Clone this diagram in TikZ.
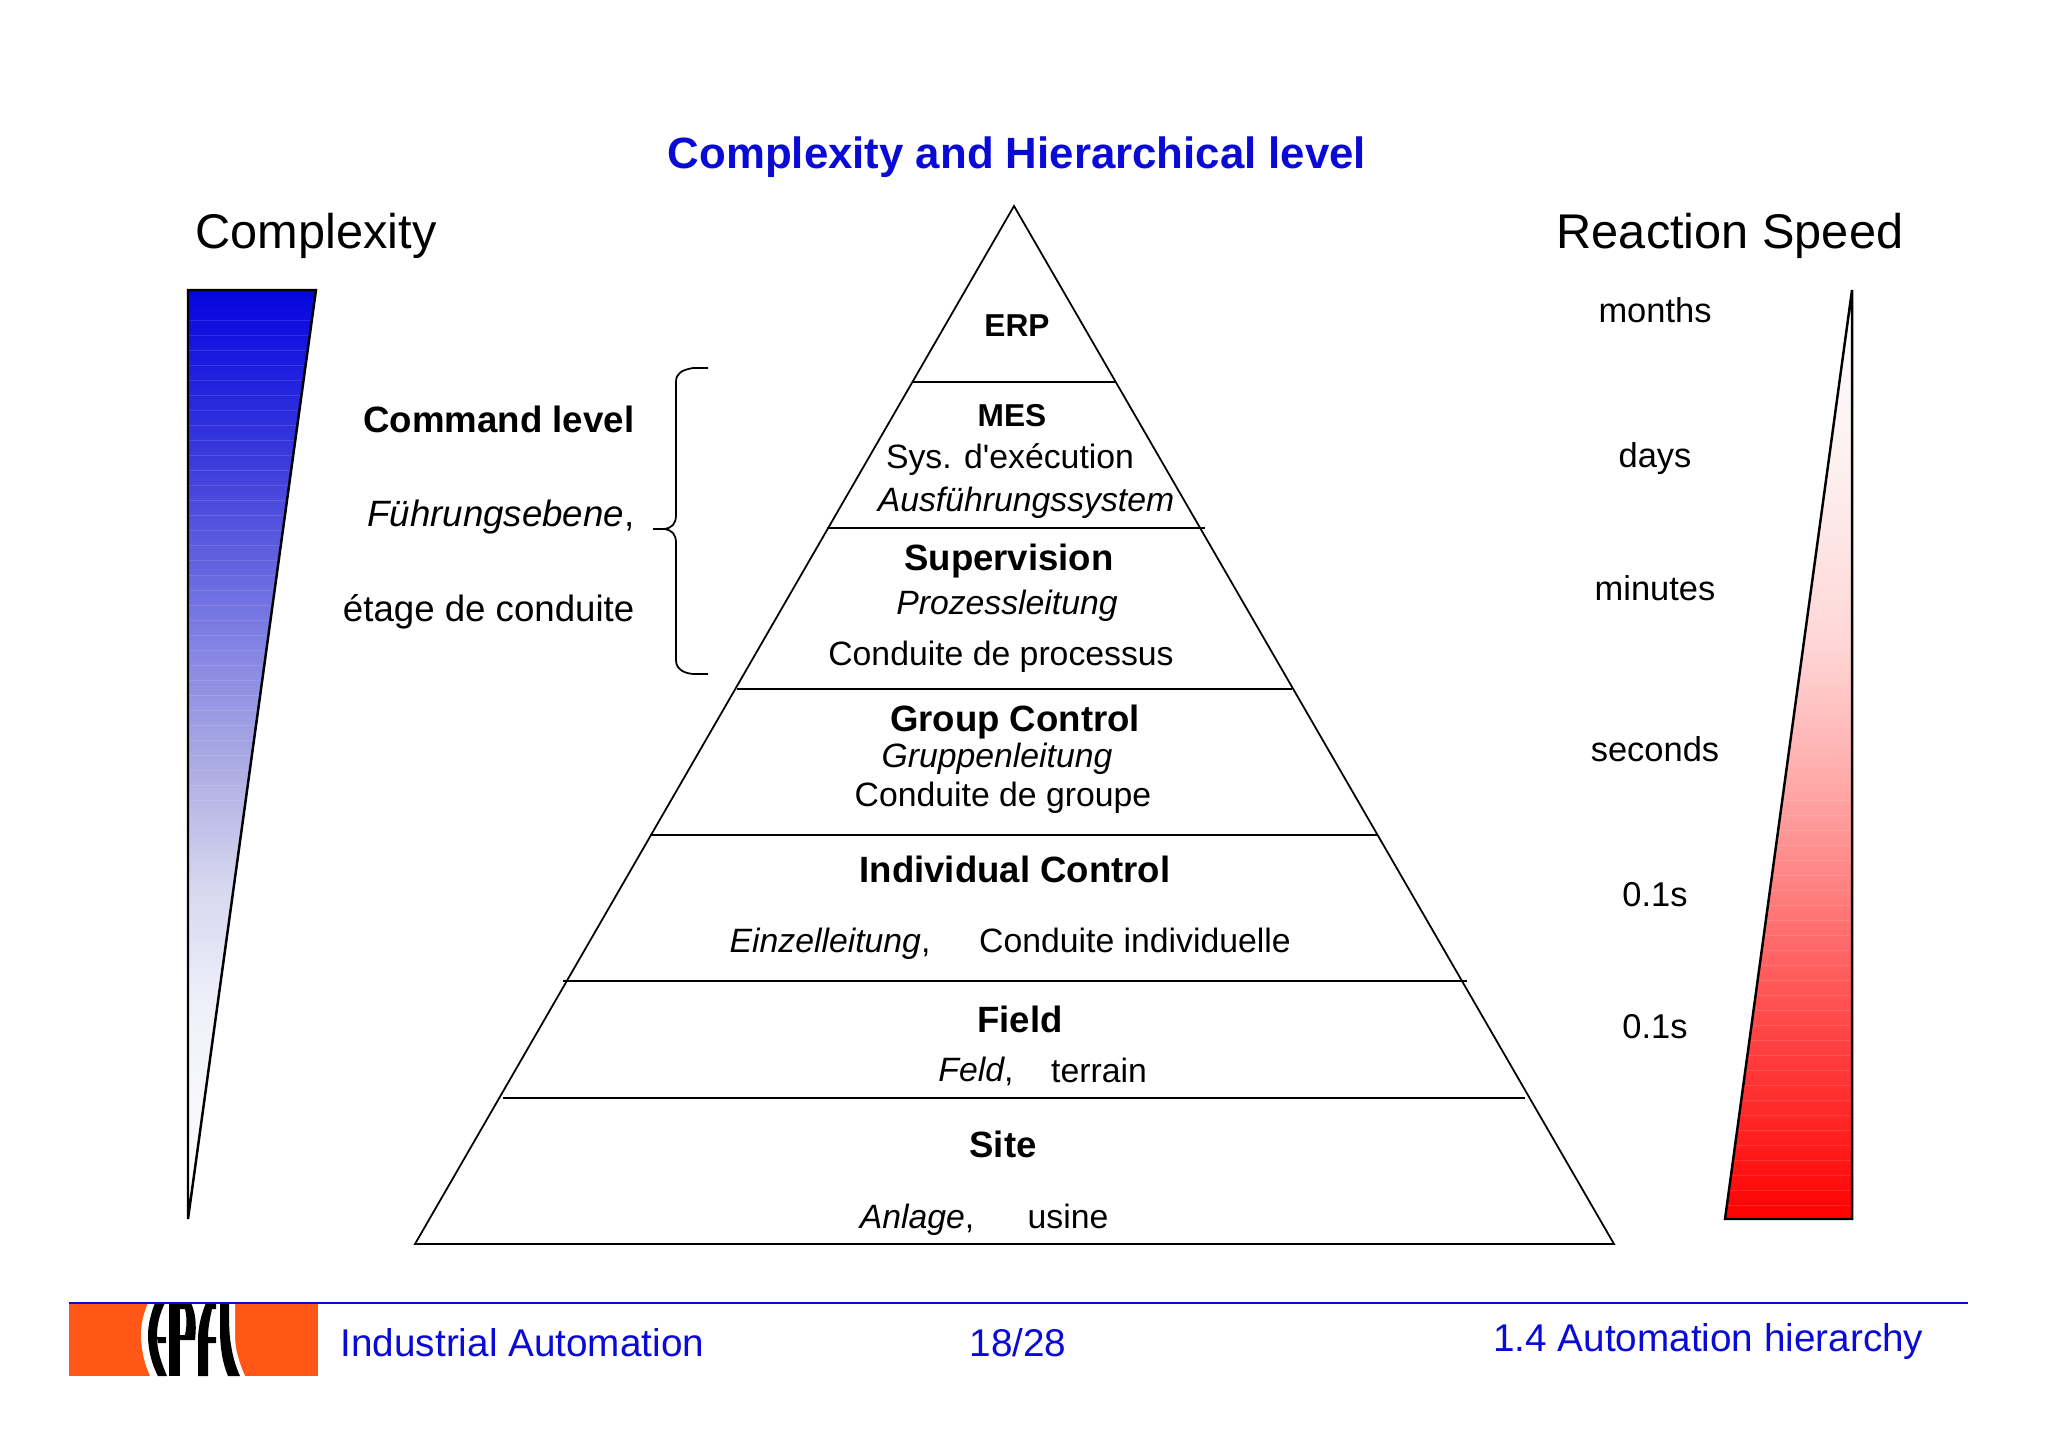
\documentclass[tikz,border=0pt]{standalone}
\usepackage{fontspec}
\setmainfont{Liberation Sans}
\usetikzlibrary{positioning}
\definecolor{epfl_blue}{RGB}{10,10,215}
\definecolor{epfl_orange}{RGB}{255,88,22}
\pgfdeclareverticalshading{blueramp}{100bp}{rgb(0bp)=(1,1,1); rgb(25bp)=(1,1,1); rgb(36.5bp)=(.94,.94,.98); rgb(43bp)=(.84,.84,.94); rgb(49.5bp)=(.67,.67,.89); rgb(56bp)=(.51,.51,.89); rgb(65.5bp)=(.24,.24,.86); rgb(75bp)=(.02,.02,.88); rgb(100bp)=(.02,.02,.88)}
\pgfdeclareverticalshading{redramp}{100bp}{rgb(0bp)=(1,0,0); rgb(25bp)=(1,0,0); rgb(30bp)=(1,.14,.14); rgb(36.5bp)=(1,.31,.31); rgb(43bp)=(1,.51,.51); rgb(49.5bp)=(1,.69,.69); rgb(56bp)=(1,.84,.84); rgb(65.5bp)=(.99,.94,.94); rgb(75bp)=(1,1,1); rgb(100bp)=(1,1,1)}
\tikzset{
	heading/.style={font=\fontsize{13.85}{16}\selectfont,inner sep=0pt},
	label/.style={font=\fontsize{9.6}{11}\selectfont,inner sep=0pt},
	labelb/.style={label,font=\fontsize{10.4}{12}\selectfont\bfseries},
	labeli/.style={label,font=\fontsize{9.6}{11}\selectfont\itshape},
	labelm/.style={label,font=\fontsize{9}{11}\selectfont\bfseries},
	side/.style={label,anchor=east,font=\fontsize{10.42}{12}\selectfont},
	speed/.style={font=\fontsize{9.8}{11}\selectfont,inner sep=0pt},
	foot/.style={font=\fontsize{11}{13}\selectfont,text=epfl_blue,inner sep=0pt},
	band/.style={white,opacity=0.12,line width=0.2pt}
}

\begin{document}
\begin{tikzpicture}[x=0.01cm,y=-0.01cm,line join=miter]
	\useasboundingbox (0,0) rectangle (2048,1449);

	% corners of the pyramid
	\coordinate (apex) at (1014,206);
	\coordinate (baseL) at (415,1244);
	\coordinate (baseR) at (1614,1244);
	\draw[line width=0.5pt] (apex) -- (baseL) -- (baseR) -- cycle;

	% levels
	\foreach\ya/\xa/\xb in {382/913/1115, 528/827/1205, 689/737/1292, 835/650/1378, 981/563/1467, 1098/503/1525}
		\draw[line width=0.5pt] (\xa,\ya) -- (\xb,\ya);

	% wedges
	\begin{scope}
		\clip (188,290) -- (316,290) -- (188,1219) -- cycle;
		\shade[shading=blueramp] (188,290) rectangle (316,1219);
		\foreach\ya in {320,335,...,800}
			\draw[band] (188,\ya) -- (316,\ya);
	\end{scope}
	\draw[line width=0.7pt] (188,290) -- (316,290) -- (188,1219) -- cycle;
	\begin{scope}
		\clip (1852,290) -- (1852,1219) -- (1725,1219) -- cycle;
		\shade[shading=redramp] (1725,290) rectangle (1852,1219);
		\foreach\ya in {800,815,...,1210}
			\draw[band] (1725,\ya) -- (1852,\ya);
	\end{scope}
	\draw[line width=0.7pt] (1852,290) -- (1852,1219) -- (1725,1219) -- cycle;

	\node[font=\fontsize{12.45}{14}\selectfont\bfseries,text=epfl_blue,inner sep=0pt] (title) at (1017,157) {Complexity and Hierarchical level};
	\node[heading] (complexity) at (316,236) {Complexity};
	\node[heading] (reaction) at (1730,236) {Reaction Speed};

	% pyramid labels
	\node[labelm] (erp) at (1017,326) {ERP};
	\node[labelm] (mes) at (1012,416) {MES};
	\node[label] (mesfr) at (1010,460) {Sys. d\textquotesingle exécution};
	\node[labeli] (mesde) at (1026,503) {Ausführungssystem};
	\node[labelb] (sup) at (1009,561) {Supervision};
	\node[labeli] (supde) at (1007,606) {Prozessleitung};
	\node[label] (supfr) at (1001,657) {Conduite de processus};
	\node[labelb] (group) at (1015,722) {Group Control};
	\node[labeli] (groupde) at (997,759) {Gruppenleitung};
	\node[label] (groupfr) at (1003,798) {Conduite de groupe};
	\node[labelb] (indiv) at (1015,869) {Individual Control};
	\node[label] (indivde) at (830,944) {\textit{Einzelleitung},};
	\node[label] (indivfr) at (1135,940) {Conduite individuelle};
	\node[labelb] (field) at (1020,1019) {Field};
	\node[label] (fieldde) at (976,1071) {\textit{Feld},};
	\node[label] (fieldfr) at (1099,1070) {terrain};
	\node[labelb] (site) at (1003,1144) {Site};
	\node[label] (sitede) at (917,1220) {\textit{Anlage},};
	\node[label] (sitefr) at (1068,1216) {usine};

	% command level
	\node[side,font=\fontsize{10.42}{12}\selectfont\bfseries] (cmd) at (635,419) {Command level};
	\node[side] (cmdde) at (635,517) {\textit{Führungsebene},};
	\node[side] (cmdfr) at (635,612) {étage de conduite};
	\coordinate (braceT) at (708,368);
	\coordinate (braceM) at (653,529);
	\coordinate (braceB) at (708,674);
	\draw[line width=0.5pt] (braceT) -- (693,368) .. controls (682,370) and (676,373) .. (676,382)
		-- (676,515) .. controls (676,524) and (672,528) .. (664,529) -- (braceM);
	\draw[line width=0.5pt] (664,529) .. controls (672,530) and (676,534) .. (676,543)
		-- (676,660) .. controls (676,668) and (682,673) .. (693,674) -- (braceB);

	% speeds
	\foreach\name/\ya/\txt in {months/310/months, days/459/days, minutes/588/minutes, seconds/749/seconds, ta/895/0.1s, tb/1027/0.1s}
		\node[speed] (\name) at (1655,\ya) {\txt};

	% footer
	\fill[epfl_orange] (69,1303) rectangle (318,1376);
	\begin{scope}
		\clip (69,1303) rectangle (318,1376);
		\fill[white] (148,1303) .. controls (143,1315) and (141,1325) .. (141,1335) .. controls (141,1350) and (145,1365) .. (150,1376) -- (245,1376) .. controls (239,1362) and (235,1350) .. (235,1335) -- (235,1303) -- cycle;
		% E
		\fill[black] (155,1303) .. controls (151,1313) and (148,1325) .. (148,1335) .. controls (148,1350) and (152,1365) .. (158,1376) -- (167,1376) .. controls (161,1362) and (157,1350) .. (157,1337) -- (166,1337) -- (166,1343) -- (158,1343) -- (157,1335) .. controls (157,1324) and (160,1313) .. (165,1303) -- cycle;
		% P
		\fill[black] (169,1303) rectangle (180,1376);
		\fill[black] (180,1303) -- (191,1303) .. controls (195,1312) and (197,1322) .. (195,1340) -- (180,1340) -- (180,1335) -- (185,1335) .. controls (187,1326) and (187,1317) .. (185,1309) -- (180,1309) -- cycle;
		% F
		\fill[black] (206,1303) -- (216,1303) -- (216,1309) -- (212,1309) .. controls (210,1318) and (208,1328) .. (208,1337) -- (216,1337) -- (216,1343) -- (208,1343) -- (208,1376) -- (198,1376) -- (198,1340) .. controls (198,1328) and (201,1315) .. (206,1303) -- cycle;
		% L
		\fill[black] (220,1303) -- (229,1303) .. controls (229,1320) and (229,1335) .. (231,1345) .. controls (233,1358) and (236,1367) .. (240,1376) -- (228,1376) .. controls (222,1362) and (220,1345) .. (220,1330) -- cycle;
	\end{scope}
	\coordinate (lineL) at (69,1303);
	\coordinate (lineR) at (1968,1303);
	\draw[epfl_blue,line width=0.75pt] (lineL) -- (lineR);
	\node[foot,anchor=west] (course) at (340,1343) {Industrial Automation};
	\node[foot] (page) at (1018,1343) {18/28};
	\node[foot,anchor=east] (chapter) at (1924,1341) {1.4 Automation hierarchy};
\end{tikzpicture}
\end{document}
